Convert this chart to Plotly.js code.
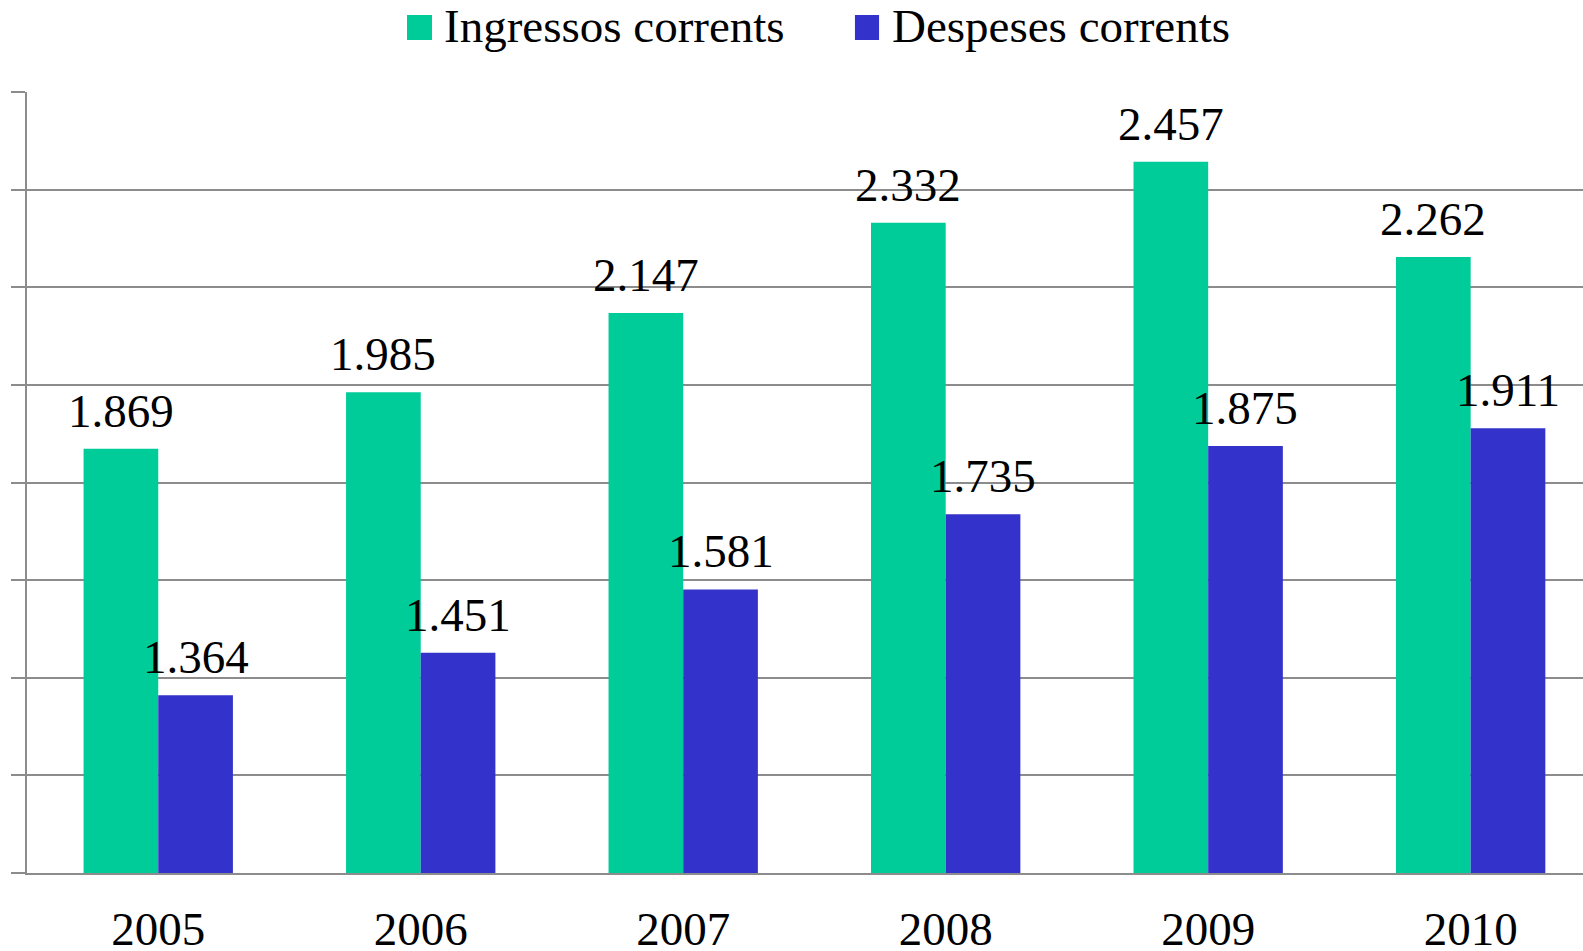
<!DOCTYPE html>
<html>
<head>
<meta charset="utf-8">
<script src="https://cdn.plot.ly/plotly-3.0.1.min.js"></script>
<style>html,body{margin:0;padding:0;background:#fff}#chart{width:1583px;height:951px}</style>
</head>
<body>
<div id="chart"></div>
<script>
const years = ['2005', '2006', '2007', '2008', '2009', '2010'];
const ingressos = [1869, 1985, 2147, 2332, 2457, 2262];
const despeses = [1364, 1451, 1581, 1735, 1875, 1911];
const seriesNames = ['Ingressos corrents', 'Despeses corrents'];
const colors = ['#00CC99', '#3333CC'];

const FONT = 'Liberation Serif, Times New Roman, serif';
const FS = 47;

function barTrace(name, vals, color) {
  return {
    type: 'bar', name: name, x: years, y: vals,
    marker: {color: color, line: {width: 0}},
    showlegend: false, hoverinfo: 'x+y'
  };
}

const data = [
  barTrace(seriesNames[0], ingressos, colors[0]),
  barTrace(seriesNames[1], despeses, colors[1])
];

function fmt(v) {
  return String(v).replace(/\B(?=(\d{3})+(?!\d))/g, '.');
}

// value labels, anchored to each bar through the axes (category index)
const labelAnns = [];
[[ingressos, -37.3], [despeses, 37.3]].forEach(([vals, dx]) => {
  vals.forEach((v, i) => {
    labelAnns.push({
      xref: 'x', yref: 'y', x: i, y: v, xshift: dx, yshift: 10,
      xanchor: 'center', yanchor: 'bottom', showarrow: false,
      text: fmt(v), font: {family: FONT, size: FS, color: '#000'}
    });
  });
});

const gridColor = '#8c8c8c';
const layout = {
  width: 1583, height: 951,
  margin: {l: 27, r: 0, t: 92, b: 78, pad: 0},
  paper_bgcolor: '#fff', plot_bgcolor: '#fff',
  separators: ',.',
  font: {family: FONT, size: FS, color: '#000'},
  barmode: 'group', bargap: 0.431, bargroupgap: 0,
  xaxis: {
    type: 'category', range: [-0.5, 5.428],
    showline: true, linecolor: gridColor, linewidth: 2,
    ticks: '', showgrid: false, zeroline: false,
    tickfont: {family: FONT, size: FS, color: '#000'},
    ticklabelstandoff: 14
  },
  yaxis: {
    range: [1000, 2600], dtick: 200, tick0: 1000,
    showticklabels: false, ticks: 'outside', ticklen: 14, tickwidth: 2, tickcolor: gridColor,
    showgrid: true, gridcolor: gridColor, gridwidth: 2,
    showline: true, linecolor: gridColor, linewidth: 2, zeroline: false
  },
  shapes: [
    {type: 'rect', xref: 'paper', yref: 'paper', x0: 0.2442, x1: 0.2603, y0: 1.0666, y1: 1.0986,
     fillcolor: colors[0], line: {width: 0}},
    {type: 'rect', xref: 'paper', yref: 'paper', x0: 0.5321, x1: 0.5476, y0: 1.0666, y1: 1.0986,
     fillcolor: colors[1], line: {width: 0}}
  ],
  annotations: [
    {xref: 'paper', yref: 'paper', x: 0.2667, y: 1.0845, xanchor: 'left', yanchor: 'middle',
     text: seriesNames[0], showarrow: false, font: {family: FONT, size: FS, color: '#000'}},
    {xref: 'paper', yref: 'paper', x: 0.5546, y: 1.0845, xanchor: 'left', yanchor: 'middle',
     text: seriesNames[1], showarrow: false, font: {family: FONT, size: FS, color: '#000'}}
  ].concat(labelAnns)
};

Plotly.newPlot('chart', data, layout, {displayModeBar: false, staticPlot: true});
</script>
</body>
</html>
